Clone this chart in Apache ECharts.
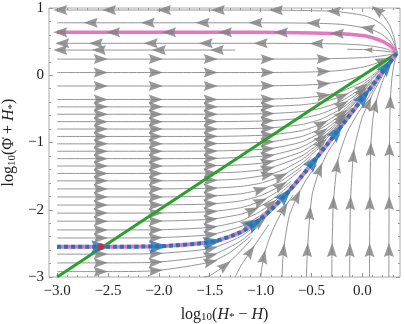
<!DOCTYPE html>
<html>
<head>
<meta charset="utf-8">
<script src="https://cdn.jsdelivr.net/npm/echarts@6/dist/echarts.min.js"></script>
<style>
  html, body { margin: 0; padding: 0; background: #fff; }
  #chart { width: 405px; height: 324px; }
</style>
</head>
<body>
<div id="chart"></div>
<script>
// axis ranges and tick labels
var xMin = -3.08, xMax = 0.37;
var yMin = -3, yMax = 1;
var xTickValues = [-3, -2.5, -2, -1.5, -1, -0.5, 0];
var yTickValues = [-3, -2, -1, 0, 1];

// streamlines running towards the fixed point (left -> right / bottom -> top)
// a third value marks an arrowhead at that point
var rowLines = [
  [[-3,0.24],[-2.57,0.24,1],[-2.03,0.24,1],[-1.49,0.24,1],[-0.93,0.24,1],[-0.38,0.244,1],[0,0.261],[0.1,0.272],[0.2,0.29],[0.27,0.307],[0.34,0.33]],
  [[-3,0.04],[-2.57,0.04,1],[-2.03,0.04,1],[-1.49,0.04,1],[-0.93,0.041,1],[-0.6,0.045],[-0.38,0.055,1],[-0.2,0.073],[0,0.119],[0.1,0.159],[0.2,0.216,1],[0.27,0.268],[0.34,0.33]],
  [[-3,-0.16],[-2.57,-0.16,1],[-2.03,-0.16,1],[-1.49,-0.16,1],[-0.93,-0.157,1],[-0.6,-0.148],[-0.38,-0.128,1],[-0.2,-0.09],[0,-0.003],[0.1,0.069],[0.2,0.162],[0.27,0.241],[0.34,0.33]],
  [[-3,-0.36],[-2.57,-0.36,1],[-2.03,-0.36,1],[-1.49,-0.36,1],[-0.93,-0.355,1],[-0.6,-0.338],[-0.38,-0.303,1],[-0.2,-0.238],[0,-0.101],[0.1,0],[0.2,0.124],[0.27,0.223],[0.34,0.33]],
  [[-3,-0.47],[-2.57,-0.47,1],[-2.03,-0.47,1],[-1.49,-0.47,1],[-0.93,-0.463,1],[-0.6,-0.441],[-0.4,-0.4],[-0.2,-0.311,1],[0,-0.146],[0.1,-0.029],[0.2,0.109],[0.27,0.216]],
  [[-3,-0.58],[-2.57,-0.58,1],[-2.03,-0.58,1],[-1.49,-0.58,1],[-0.93,-0.571,1],[-0.6,-0.541],[-0.4,-0.488],[-0.2,-0.378],[0,-0.184,1],[0.1,-0.053],[0.2,0.096]],
  [[-3,-0.69],[-2.57,-0.69,1],[-2.03,-0.69,1],[-1.49,-0.69,1],[-0.93,-0.678,1],[-0.6,-0.639],[-0.4,-0.571],[-0.2,-0.437,1],[0,-0.216],[0.1,-0.073]],
  [[-3,-0.8],[-2.57,-0.8,1],[-2.03,-0.8,1],[-1.49,-0.8,1],[-0.93,-0.785,1],[-0.6,-0.734],[-0.4,-0.65],[-0.2,-0.49],[0,-0.242,1],[0.1,-0.089]],
  [[-3,-0.91],[-2.57,-0.91,1],[-2.03,-0.91,1],[-1.49,-0.91,1],[-0.93,-0.889,1],[-0.6,-0.825],[-0.4,-0.722,1],[-0.2,-0.536],[0,-0.264]],
  [[-3,-1.02],[-2.57,-1.02,1],[-2.03,-1.02,1],[-1.49,-1.018,1],[-0.93,-0.993,1],[-0.6,-0.912],[-0.4,-0.787],[-0.2,-0.576,1],[0,-0.282]],
  [[-3,-1.13],[-2.57,-1.13,1],[-2.03,-1.13,1],[-1.49,-1.127,1],[-0.93,-1.096,1],[-0.6,-0.994],[-0.4,-0.846,1],[-0.2,-0.609],[0,-0.296]],
  [[-3,-1.24],[-2.57,-1.24,1],[-2.03,-1.24,1],[-1.49,-1.237,1],[-0.93,-1.197,1],[-0.6,-1.071],[-0.4,-0.898],[-0.2,-0.637,1],[-0.1,-0.479]],
  [[-3,-1.35],[-2.57,-1.35,1],[-2.03,-1.35,1],[-1.49,-1.345,1],[-1.2,-1.333],[-0.93,-1.294,1],[-0.6,-1.14],[-0.4,-0.943,1],[-0.2,-0.66],[-0.1,-0.494]],
  [[-3,-1.46],[-2.57,-1.46,1],[-2.03,-1.46,1],[-1.49,-1.454,1],[-1.2,-1.438],[-0.93,-1.389,1],[-0.6,-1.204],[-0.4,-0.982],[-0.2,-0.678,1]],
  [[-3,-1.57],[-2.57,-1.57,1],[-2.03,-1.57,1],[-1.49,-1.562,1],[-1.2,-1.542],[-0.93,-1.48,1],[-0.8,-1.42],[-0.6,-1.261],[-0.4,-1.014,1],[-0.2,-0.693]],
  [[-3,-1.69],[-2.57,-1.69,1],[-2.03,-1.69,1],[-1.49,-1.68,1],[-1.2,-1.654],[-1.0,-1.605],[-0.8,-1.501,1],[-0.6,-1.315],[-0.4,-1.043]],
  [[-3,-1.81],[-2.57,-1.81,1],[-2.03,-1.81,1],[-1.49,-1.797,1],[-1.2,-1.763],[-1.0,-1.701,1],[-0.8,-1.574],[-0.6,-1.361],[-0.5,-1.22]],
  [[-3,-1.93],[-2.57,-1.93,1],[-2.03,-1.93,1],[-1.49,-1.913,1],[-1.2,-1.869],[-1.0,-1.79],[-0.8,-1.64,1],[-0.6,-1.4]],
  [[-3,-2.05],[-2.57,-2.05,1],[-2.03,-2.049,1],[-1.49,-2.028,1],[-1.2,-1.971],[-1.0,-1.874,1],[-0.8,-1.697],[-0.7,-1.573]],
  [[-3,-2.17],[-2.57,-2.17,1],[-2.03,-2.169,1],[-1.49,-2.141,1],[-1.2,-2.069],[-1.08,-2.007,1],[-0.9,-1.859],[-0.8,-1.746],[-0.7,-1.61]],
  [[-3,-2.3],[-2.57,-2.3,1],[-2.03,-2.299,1],[-1.49,-2.261,1],[-1.2,-2.168],[-1.0,-2.023],[-0.9,-1.918,1],[-0.8,-1.79]],
  [[-3,-2.42],[-2.57,-2.42,1],[-2.03,-2.416,1],[-1.49,-2.37,1],[-1.2,-2.253],[-1.12,-2.196,1],[-1.0,-2.083],[-0.85,-1.896]],
  [[-3,-2.66],[-2.57,-2.66,1],[-2.03,-2.652,1],[-1.49,-2.576,1],[-1.2,-2.401],[-1.0,-2.177,1],[-0.9,-2.033]],
  [[-3,-2.79],[-2.57,-2.79,1],[-2.03,-2.78,1],[-1.49,-2.68,1],[-1.2,-2.468],[-1.0,-2.215]],
  [[-3,-2.92],[-2.57,-2.92,1],[-2.03,-2.906,1],[-1.49,-2.777,1],[-1.3,-2.634],[-1.1,-2.396]]
];

var bottomLines = [
  [[0.26,-3],[0.261,-2.6,1],[0.263,-1.9,1],[0.266,-1.1,1],[0.274,-0.4,1],[0.29,-0.05],[0.31,0.15],[0.34,0.33]],
  [[0.07,-3],[0.071,-2.6,1],[0.074,-1.9,1],[0.082,-1.1,1],[0.1,-0.7],[0.125,-0.45,1],[0.2,-0.08],[0.27,0.15],[0.34,0.33]],
  [[-0.125,-3],[-0.123,-2.6,1],[-0.117,-1.9,1],[-0.09,-1.2,1],[-0.06,-0.95],[0,-0.62],[0.06,-0.42,1],[0.1,-0.28],[0.2,0],[0.27,0.17],[0.34,0.33]],
  [[-0.3,-3],[-0.298,-2.6,1],[-0.285,-1.9,1],[-0.25,-1.35,1],[-0.22,-1.15],[-0.15,-0.85],[-0.05,-0.58],[0.05,-0.35],[0.15,-0.1]],
  [[-0.55,-3],[-0.54,-2.6,1],[-0.515,-2.05,1],[-0.49,-1.75],[-0.42,-1.4,1],[-0.33,-1.12],[-0.22,-0.88]],
  [[-0.79,-3],[-0.775,-2.6,1],[-0.72,-2.1],[-0.64,-1.8,1],[-0.55,-1.55],[-0.45,-1.33]],
  [[-1.0,-3],[-0.97,-2.7,1],[-0.92,-2.45],[-0.85,-2.2],[-0.77,-1.98,1],[-0.68,-1.78]],
  [[-1.25,-3],[-1.2,-2.85],[-1.1,-2.62,1],[-1.0,-2.4],[-0.92,-2.22]],
  [[-1.56,-3],[-1.5,-2.98],[-1.35,-2.83,1],[-1.2,-2.62],[-1.08,-2.42]]
];

// trajectories leaving the fixed point towards the left (points listed left -> right)
var pinkTrajectory = [[-3,0.64],[-2.97,0.64,1],[-2.45,0.64,1],[-1.9,0.64,1],[-1.35,0.639,1],[-0.8,0.637,1],[-0.25,0.62,1],[0,0.59],[0.1,0.558],[0.2,0.503],[0.27,0.44],[0.31,0.385],[0.34,0.33]];
var outflowLines = [
  [[0.11,1.0],[0.146,0.966,1],[0.2,0.895],[0.27,0.737],[0.31,0.567],[0.33,0.428],[0.34,0.33]],
  [[-3,0.97],[-2.97,0.97,1],[-2.49,0.97,1],[-1.95,0.97,1],[-1.42,0.97,1],[-0.85,0.968,1],[-0.28,0.951,1],[0,0.894],[0.1,0.842],[0.2,0.745],[0.27,0.615],[0.31,0.487],[0.34,0.33]],
  [[-3,0.78],[-2.67,0.78,1],[-2.11,0.78,1],[-1.57,0.78,1],[-1.05,0.78,1],[-0.48,0.774,1],[-0.2,0.756],[0.05,0.699,1],[0.1,0.676],[0.2,0.601],[0.27,0.507],[0.31,0.422],[0.34,0.33]],
  pinkTrajectory,
  [[-3,0.475],[-2.95,0.475,1],[-2.62,0.475,1],[-2.08,0.475,1],[-1.54,0.475,1],[-1.0,0.475,1],[-0.45,0.471,1],[-0.2,0.465],[0,0.449],[0.1,0.432],[0.2,0.405],[0.27,0.375],[0.34,0.33]],
  [[-3,0.375],[-2.97,0.375,1],[-2.59,0.375,1],[-2.0,0.375,1],[-1.43,0.375,1],[-1.25,0.375]],
  [[-0.15,0.386],[0,0.382],[0.06,0.378,2],[0.2,0.362],[0.3,0.342],[0.34,0.33]]
];

// highlighted trajectory, attractor line and starting point
var blueTrajectory = [[-3,-2.55],[-2.57,-2.55,1],[-2.0,-2.544,1],[-1.47,-2.477,1],[-1.2,-2.337],[-1.05,-2.196,1],[-0.9,-2.004],[-0.755,-1.779,1],[-0.6,-1.508],[-0.477,-1.28,1],[-0.35,-1.036],[-0.247,-0.835,1],[-0.1,-0.546],[0.015,-0.317,1],[0.13,-0.088],[0.245,0.141,1],[0.34,0.33]];
var greenLine = [[-3,-3],[0.34,0.33]];
var startPoint = [[-2.57,-2.55]];

var gridW = 351, gridH = 269;
var sx = gridW / (xMax - xMin), sy = gridH / (yMax - yMin);
var arrowPath = 'path://M5,0L10,14L5,12L0,14Z';
var serif = 'Liberation Serif';

function xy(pts) { return pts.map(function (p) { return [p[0], p[1]]; }); }

// arrowheads sit on flagged points, pointing along the local tangent
function arrowsOf(lines, sign) {
  var out = [];
  lines.forEach(function (pts) {
    pts.forEach(function (p, i) {
      if (!p[2]) return;
      var a = pts[Math.max(i - 1, 0)], b = pts[Math.min(i + 1, pts.length - 1)];
      var ang = Math.atan2((b[1] - a[1]) * sy, (b[0] - a[0]) * sx) * 180 / Math.PI;
      if (sign < 0) ang += 180;
      out.push([p[0], p[1], ang - 90, p[2]]);
    });
  });
  return out;
}

var series = [];
rowLines.concat(bottomLines, outflowLines).forEach(function (pts) {
  series.push({
    type: 'line', data: xy(pts), showSymbol: false, smooth: 0.2, silent: true, z: 2,
    lineStyle: { color: '#888', width: 0.9 }
  });
});
series.push({
  type: 'line', data: xy(pinkTrajectory), showSymbol: false, smooth: 0.2, silent: true, z: 3,
  lineStyle: { color: '#e377c2', width: 3.5 }
});
series.push({
  type: 'scatter', silent: true, z: 4,
  data: arrowsOf(rowLines.concat(bottomLines), 1).concat(arrowsOf(outflowLines, -1)),
  symbol: arrowPath,
  symbolRotate: function (v) { return v[2]; },
  symbolSize: function (v) { return v[3] === 2 ? [6, 9] : [10, 14]; },
  itemStyle: { color: '#7f7f7f' }
});
series.push({
  type: 'line', data: greenLine, showSymbol: false, silent: true, z: 5,
  lineStyle: { color: '#2ca02c', width: 3 }
});
series.push({
  type: 'line', data: xy(blueTrajectory), showSymbol: false, smooth: 0.2, silent: true, z: 6,
  lineStyle: { color: '#e377c2', width: 4 }
});
series.push({
  type: 'line', data: xy(blueTrajectory), showSymbol: false, smooth: 0.2, silent: true, z: 7,
  lineStyle: { color: '#1f77b4', width: 4, type: [4, 3], cap: 'butt' }
});
series.push({
  type: 'scatter', silent: true, z: 8,
  data: arrowsOf([blueTrajectory], 1),
  symbol: arrowPath,
  symbolRotate: function (v) { return v[2]; },
  symbolSize: [13, 19],
  itemStyle: { color: '#1f77b4' }
});
series.push({
  type: 'scatter', silent: true, z: 9, data: startPoint,
  symbol: 'circle', symbolSize: 7, itemStyle: { color: '#d62728' }
});

var xMinor = [], yMinor = [];
for (var i = -30; i <= 3; i++) xMinor.push(i / 10);
for (var j = -15; j <= 5; j++) yMinor.push(j / 5);

var nameRich = {
  t: { fontFamily: serif, fontSize: 16, color: '#222', verticalAlign: 'top', lineHeight: 16 },
  i: { fontFamily: serif, fontSize: 16, color: '#222', fontStyle: 'italic', verticalAlign: 'top', lineHeight: 16 },
  s: { fontFamily: serif, fontSize: 11, color: '#222', verticalAlign: 'bottom', lineHeight: 11, padding: [8, 0, 0, 0] }
};

function minus(s) { return s.replace('-', '\u2212'); }

function xAxisDef(pos, major, withLabels) {
  return {
    type: 'value', position: pos, min: xMin, max: xMax, gridIndex: 0,
    splitLine: { show: false }, axisLine: { show: false, onZero: false },
    axisTick: { show: true, inside: true, length: major ? 4 : 2, customValues: major ? xTickValues : xMinor, lineStyle: { color: '#999' } },
    axisLabel: withLabels ? {
      show: true, customValues: xTickValues, margin: 7, fontFamily: serif, fontSize: 15, color: '#222',
      formatter: function (v) { return minus(v.toFixed(1)); }
    } : { show: false }
  };
}
function yAxisDef(pos, major, withLabels) {
  return {
    type: 'value', position: pos, min: yMin, max: yMax, gridIndex: 0,
    splitLine: { show: false }, axisLine: { show: false, onZero: false },
    axisTick: { show: true, inside: true, length: major ? 4 : 2, customValues: major ? yTickValues : yMinor, lineStyle: { color: '#999' } },
    axisLabel: withLabels ? {
      show: true, customValues: yTickValues, margin: 5, fontFamily: serif, fontSize: 15, color: '#222',
      formatter: function (v) { return minus(String(v)); }
    } : { show: false }
  };
}

var xAxes = [xAxisDef('bottom', true, true), xAxisDef('bottom', false, false), xAxisDef('top', true, false), xAxisDef('top', false, false)];
xAxes[0].name = '{t|log}{s|10}{t|(}{i|H}{s|*}{t| \u2212 }{i|H}{t|)}';
xAxes[0].nameLocation = 'middle';
xAxes[0].nameGap = 25;
xAxes[0].nameTextStyle = { rich: nameRich };

var yAxes = [yAxisDef('left', true, true), yAxisDef('left', false, false), yAxisDef('right', true, false), yAxisDef('right', false, false)];
yAxes[0].name = '{t|log}{s|10}{t|(\u03A6\u0307 + }{i|H}{s|*}{t|)}';
yAxes[0].nameLocation = 'middle';
yAxes[0].nameRotate = 90;
yAxes[0].nameGap = 28;
yAxes[0].nameTextStyle = { rich: nameRich };

var chart = echarts.init(document.getElementById('chart'), null, { renderer: 'canvas' });
chart.setOption({
  animation: false,
  backgroundColor: '#fff',
  grid: { left: 49, right: 5, top: 8, bottom: 47, show: true, borderColor: '#aaa', borderWidth: 1, backgroundColor: 'transparent', outerBoundsMode: 'none', containLabel: false },
  xAxis: xAxes,
  yAxis: yAxes,
  series: series
});
</script>
</body>
</html>
